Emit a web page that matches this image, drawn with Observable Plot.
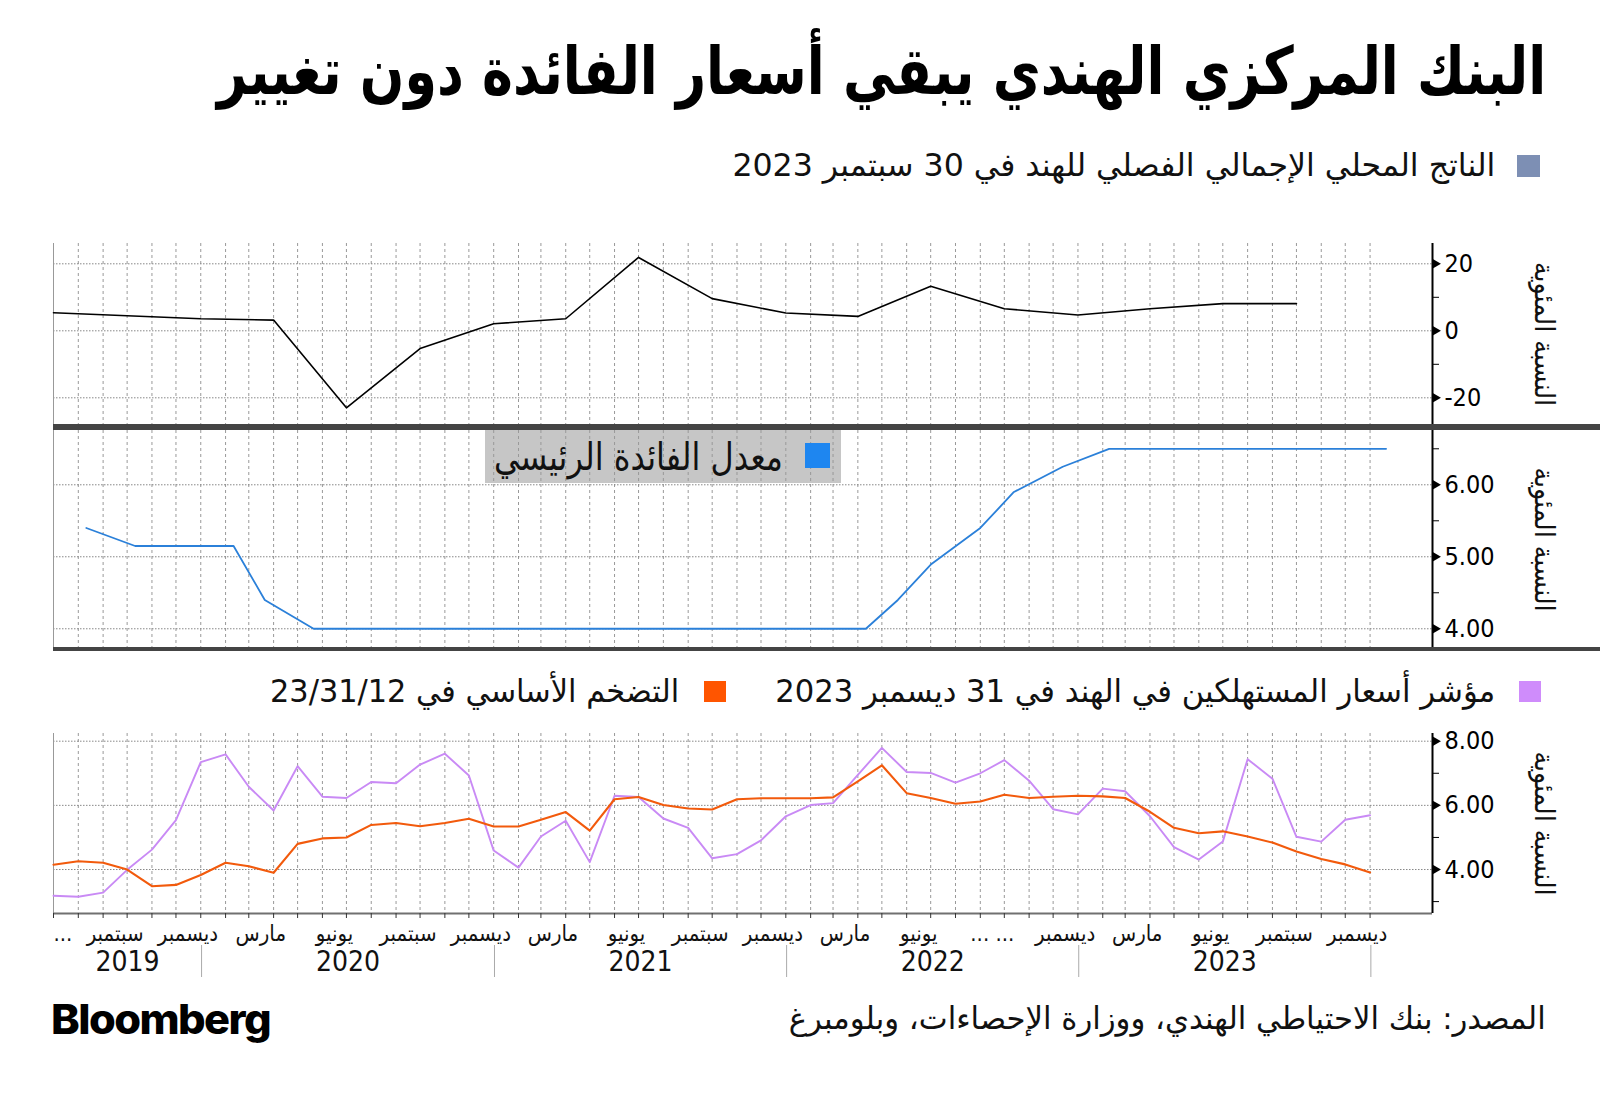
<!DOCTYPE html>
<html lang="ar">
<head>
<meta charset="utf-8">
<script src="https://cdn.jsdelivr.net/npm/d3@7"></script>
<script src="https://cdn.jsdelivr.net/npm/@observablehq/plot@0.6"></script>
<style>
html,body{margin:0;padding:0;background:#fff;}
#root{position:relative;width:1600px;height:1100px;overflow:hidden;background:#fff;font-family:"DejaVu Sans Condensed","DejaVu Sans",sans-serif;color:#111;}
.txt{position:absolute;white-space:nowrap;line-height:1.25;transform-origin:right center;z-index:3;}
.sq{position:absolute;z-index:3;}
.bar{position:absolute;background:#444;z-index:4;}
.panel{position:absolute;left:0;z-index:2;}
.panel svg{overflow:visible;background:transparent;}
</style>
</head>
<body>
<div id="root">
  <div class="txt" dir="rtl" data-w="1329" style="right:54px;top:72px;font-family:'DejaVu Sans';font-weight:bold;font-size:66px;color:#000;">البنك المركزي الهندي يبقي أسعار الفائدة دون تغيير</div>

  <div class="sq" style="left:1517px;top:155px;width:23px;height:22px;background:#7d8fb4;"></div>
  <div class="txt" dir="rtl" data-w="763" style="right:105px;top:165px;font-size:32px;">الناتج المحلي الإجمالي الفصلي للهند في 30 سبتمبر 2023</div>

  <div id="p1" class="panel" style="top:233px;"></div>
  <div class="bar" style="left:53px;top:424px;width:1547px;height:5.5px;"></div>

  <div style="position:absolute;left:485px;top:430px;width:356px;height:53px;background:#c6c6c6;z-index:1;"></div>
  <div class="sq" style="left:805px;top:443px;width:25px;height:25px;background:#1e86f0;"></div>
  <div class="txt" dir="rtl" data-w="289" style="right:817px;top:458px;font-size:38px;">معدل الفائدة الرئيسي</div>
  <div id="p2" class="panel" style="top:420px;"></div>
  <div class="bar" style="left:53px;top:646.5px;width:1547px;height:4px;"></div>

  <div class="sq" style="left:1519px;top:681px;width:22px;height:21px;background:#cf8cfb;"></div>
  <div class="txt" dir="rtl" data-w="720" style="right:105px;top:691px;font-size:32px;">مؤشر أسعار المستهلكين في الهند في 31 ديسمبر 2023</div>
  <div class="sq" style="left:704px;top:681px;width:22px;height:21px;background:#ff5500;"></div>
  <div class="txt" dir="rtl" data-w="409" style="right:921px;top:691px;font-size:32px;">التضخم الأساسي في 23/31/12</div>
  <div id="p3" class="panel" style="top:723px;"></div>

  <div class="txt" dir="rtl" data-w="757" style="right:54px;top:1018px;font-size:31px;">المصدر: بنك الاحتياطي الهندي، ووزارة الإحصاءات، وبلومبرغ</div>
  <div class="txt" data-w="219" style="left:51px;top:1020px;font-family:Inter;font-weight:800;font-size:41px;letter-spacing:-1.5px;color:#000;transform-origin:left center;">Bloomberg</div>
</div>
<script>
// ---------------- DATA ----------------
// Quarterly GDP growth (YoY %), quarter-end dates
const gdpDates = ["2019-06-30","2019-09-30","2019-12-31","2020-03-31","2020-06-30","2020-09-30","2020-12-31","2021-03-31","2021-06-30","2021-09-30","2021-12-31","2022-03-31","2022-06-30","2022-09-30","2022-12-31","2023-03-31","2023-06-30","2023-09-30"];
const gdpValues = [5.4, 4.5, 3.6, 3.2, -23.0, -5.3, 2.1, 3.6, 21.9, 9.6, 5.3, 4.3, 13.3, 6.6, 4.7, 6.6, 8.1, 8.1];

// Policy (repo) rate, %
const repoDates = ["2019-08-10","2019-10-10","2020-02-10","2020-03-20","2020-05-20","2022-04-10","2022-05-20","2022-07-01","2022-08-31","2022-10-12","2022-12-12","2023-02-08","2024-01-20"];
const repoValues = [5.40, 5.15, 5.15, 4.40, 4.00, 4.00, 4.40, 4.90, 5.40, 5.90, 6.25, 6.50, 6.50];

// Monthly CPI and core inflation, Jun 2019 .. Dec 2023
const firstMonth = "2019-06-01";
const cpiValues = [
  3.18, 3.15, 3.28, 3.99, 4.62, 5.54, 7.35,
  7.59, 6.58, 5.84, 7.22, 6.27, 6.23, 6.73, 6.69, 7.27, 7.61, 6.93, 4.59,
  4.06, 5.03, 5.52, 4.23, 6.30, 6.26, 5.59, 5.30, 4.35, 4.48, 4.91, 5.66,
  6.01, 6.07, 6.95, 7.79, 7.04, 7.01, 6.71, 7.00, 7.41, 6.77, 5.88, 5.72,
  6.52, 6.44, 5.66, 4.70, 4.31, 4.87, 7.44, 6.83, 5.02, 4.87, 5.55, 5.69
];
const coreValues = [
  4.15, 4.26, 4.21, 4.00, 3.48, 3.52, 3.83,
  4.21, 4.10, 3.90, 4.80, 4.97, 5.00, 5.39, 5.45, 5.35, 5.45, 5.58, 5.34,
  5.34, 5.55, 5.79, 5.21, 6.19, 6.26, 6.01, 5.90, 5.87, 6.19, 6.22, 6.22,
  6.22, 6.25, 6.75, 7.25, 6.38, 6.23, 6.05, 6.12, 6.33, 6.23, 6.27, 6.30,
  6.28, 6.23, 5.80, 5.30, 5.13, 5.19, 5.03, 4.84, 4.56, 4.33, 4.16, 3.91
];

// x tick labels (quarter months)
const labelMonths = ["2019-06","2019-09","2019-12","2020-03","2020-06","2020-09","2020-12","2021-03","2021-06","2021-09","2021-12","2022-03","2022-06","2022-09","2022-12","2023-03","2023-06","2023-09","2023-12"];
const labelTexts = ["...","سبتمبر","ديسمبر","مارس","يونيو","سبتمبر","ديسمبر","مارس","يونيو","سبتمبر","ديسمبر","مارس","يونيو","... ...","ديسمبر","مارس","يونيو","سبتمبر","ديسمبر"];
const years = [2019, 2020, 2021, 2022, 2023];

const gdpTicks = [-20, 0, 20], gdpMinor = [-10, 10];
const repoTicks = [4, 5, 6], repoMinor = [4.5, 5.5, 6.5];
const inflTicks = [4, 6, 8], inflMinor = [3, 5, 7];
const axisTitle = "النسبة المئوية";

// ---------------- BUILD ----------------
const X_DOMAIN = [new Date("2019-06-30"), new Date("2024-03-18")];
const months = d3.utcMonth.range(new Date(firstMonth), new Date("2024-01-01"));
const monthEnd = m => d3.utcDay.offset(d3.utcMonth.offset(m, 1), -1);
const monthDates = months.map(monthEnd);
const infl = months.map((m, i) => ({date: monthEnd(m), cpi: cpiValues[i], core: coreValues[i]}));
const gdp = gdpDates.map((d, i) => ({date: new Date(d), v: gdpValues[i]}));
const repo = repoDates.map((d, i) => ({date: new Date(d), v: repoValues[i]}));

const FONT = "DejaVu Sans Condensed, DejaVu Sans, sans-serif";

function panel({height, marginTop, marginBottom, yDomain, major, minor, fmt, lines, extra = [], xAxisNull = true}) {
  return Plot.plot({
    width: 1600, height, marginLeft: 53, marginRight: 168, marginTop, marginBottom,
    x: xAxisNull ? {type: "utc", domain: X_DOMAIN, axis: null} : {type: "utc", domain: X_DOMAIN},
    y: {domain: yDomain, label: null},
    style: {background: "transparent", fontFamily: FONT, color: "#000", overflow: "visible"},
    marks: [
      Plot.ruleX(monthDates, {stroke: "#999", strokeWidth: 1, strokeDasharray: "3,3"}),
      Plot.ruleY(major, {stroke: "#888", strokeWidth: 1, strokeDasharray: "1.5,1.5"}),
      Plot.ruleX([X_DOMAIN[0]], {stroke: "#999", strokeWidth: 1}),
      ...lines,
      ...extra,
      Plot.ruleX([X_DOMAIN[1]], {stroke: "#000", strokeWidth: 2}),
      Plot.axisY({anchor: "right", ticks: minor, tickSize: 6, tickFormat: () => "", stroke: "#000", label: null}),
      Plot.axisY({anchor: "right", ticks: major, tickSize: 0, tickPadding: 12, tickFormat: fmt, fontSize: 25, fill: "#000", label: null}),
      Plot.dot(major, {y: d => d, frameAnchor: "right", symbol: "triangle", r: 3.5, rotate: 90, fill: "#000", dx: 3}),
      Plot.text([axisTitle], {frameAnchor: "right", textAnchor: "middle", lineAnchor: "middle", rotate: 90, dx: 111, fontSize: 28, fill: "#111"})
    ]
  });
}

const p1 = panel({
  height: 195, marginTop: 10, marginBottom: 4,
  yDomain: [-27.97, 26.06], major: gdpTicks, minor: gdpMinor, fmt: d => String(d),
  lines: [Plot.line(gdp, {x: "date", y: "v", stroke: "#000", strokeWidth: 1.6})]
});
document.getElementById("p1").append(p1);

const p2 = panel({
  height: 232, marginTop: 10, marginBottom: 4,
  yDomain: [3.726, 6.754], major: repoTicks, minor: repoMinor, fmt: d => d.toFixed(2),
  lines: [Plot.line(repo, {x: "date", y: "v", stroke: "#2b80d9", strokeWidth: 1.8})]
});
document.getElementById("p2").append(p2);

const labels = labelMonths.map((m, i) => ({date: d3.utcDay.offset(new Date(m + "-01"), 14), text: labelTexts[i]}));
const labelsIn = labels.filter(d => d.date >= X_DOMAIN[0]);
const labelsEdge = labels.filter(d => d.date < X_DOMAIN[0]).map(d => ({...d, date: X_DOMAIN[0]}));
const yearStarts = years.slice(1).map(y => new Date(Date.UTC(y, 0, 1))).concat([new Date(Date.UTC(2024, 0, 1))]);
const yearLabels = years.map(y => {
  const a = y === years[0] ? X_DOMAIN[0] : new Date(Date.UTC(y, 0, 1));
  const b = new Date(Date.UTC(y + 1, 0, 1));
  return {date: new Date((+a + +b) / 2), text: String(y)};
});

const p3 = panel({
  height: 260, marginTop: 10, marginBottom: 70, xAxisNull: false,
  yDomain: [2.629, 8.24], major: inflTicks, minor: inflMinor, fmt: d => d.toFixed(2),
  lines: [
    Plot.line(infl, {x: "date", y: "cpi", stroke: "#c98af5", strokeWidth: 1.9}),
    Plot.line(infl, {x: "date", y: "core", stroke: "#f25a0c", strokeWidth: 2.1})
  ],
  extra: [
    Plot.ruleY([2.629], {stroke: "#707070", strokeWidth: 2}),
    Plot.axisX({ticks: monthDates, tickSize: 5, tickFormat: () => "", stroke: "#333", label: null}),
    Plot.axisX({ticks: yearStarts, tickSize: 32, dy: 32, tickFormat: () => "", stroke: "#aaa", label: null}),
    Plot.text(labelsIn, {x: "date", text: "text", frameAnchor: "bottom", textAnchor: "middle", dy: 20, lineAnchor: "middle", fontSize: 22, fill: "#111"}),
    Plot.text(labelsEdge, {x: "date", text: "text", frameAnchor: "bottom", textAnchor: "start", dy: 20, lineAnchor: "middle", fontSize: 22, fill: "#111"}),
    Plot.text(yearLabels, {x: "date", text: "text", frameAnchor: "bottom", textAnchor: "middle", dy: 49, lineAnchor: "middle", fontSize: 28, fill: "#111"})
  ]
});
document.getElementById("p3").append(p3);

// fit text blocks horizontally to their measured width in the reference
document.querySelectorAll(".txt").forEach(el => {
  const w = el.getBoundingClientRect().width;
  const s = (+el.dataset.w) / w;
  el.style.transform = `translateY(-50%) scaleX(${s})`;
});
</script>
</body>
</html>
